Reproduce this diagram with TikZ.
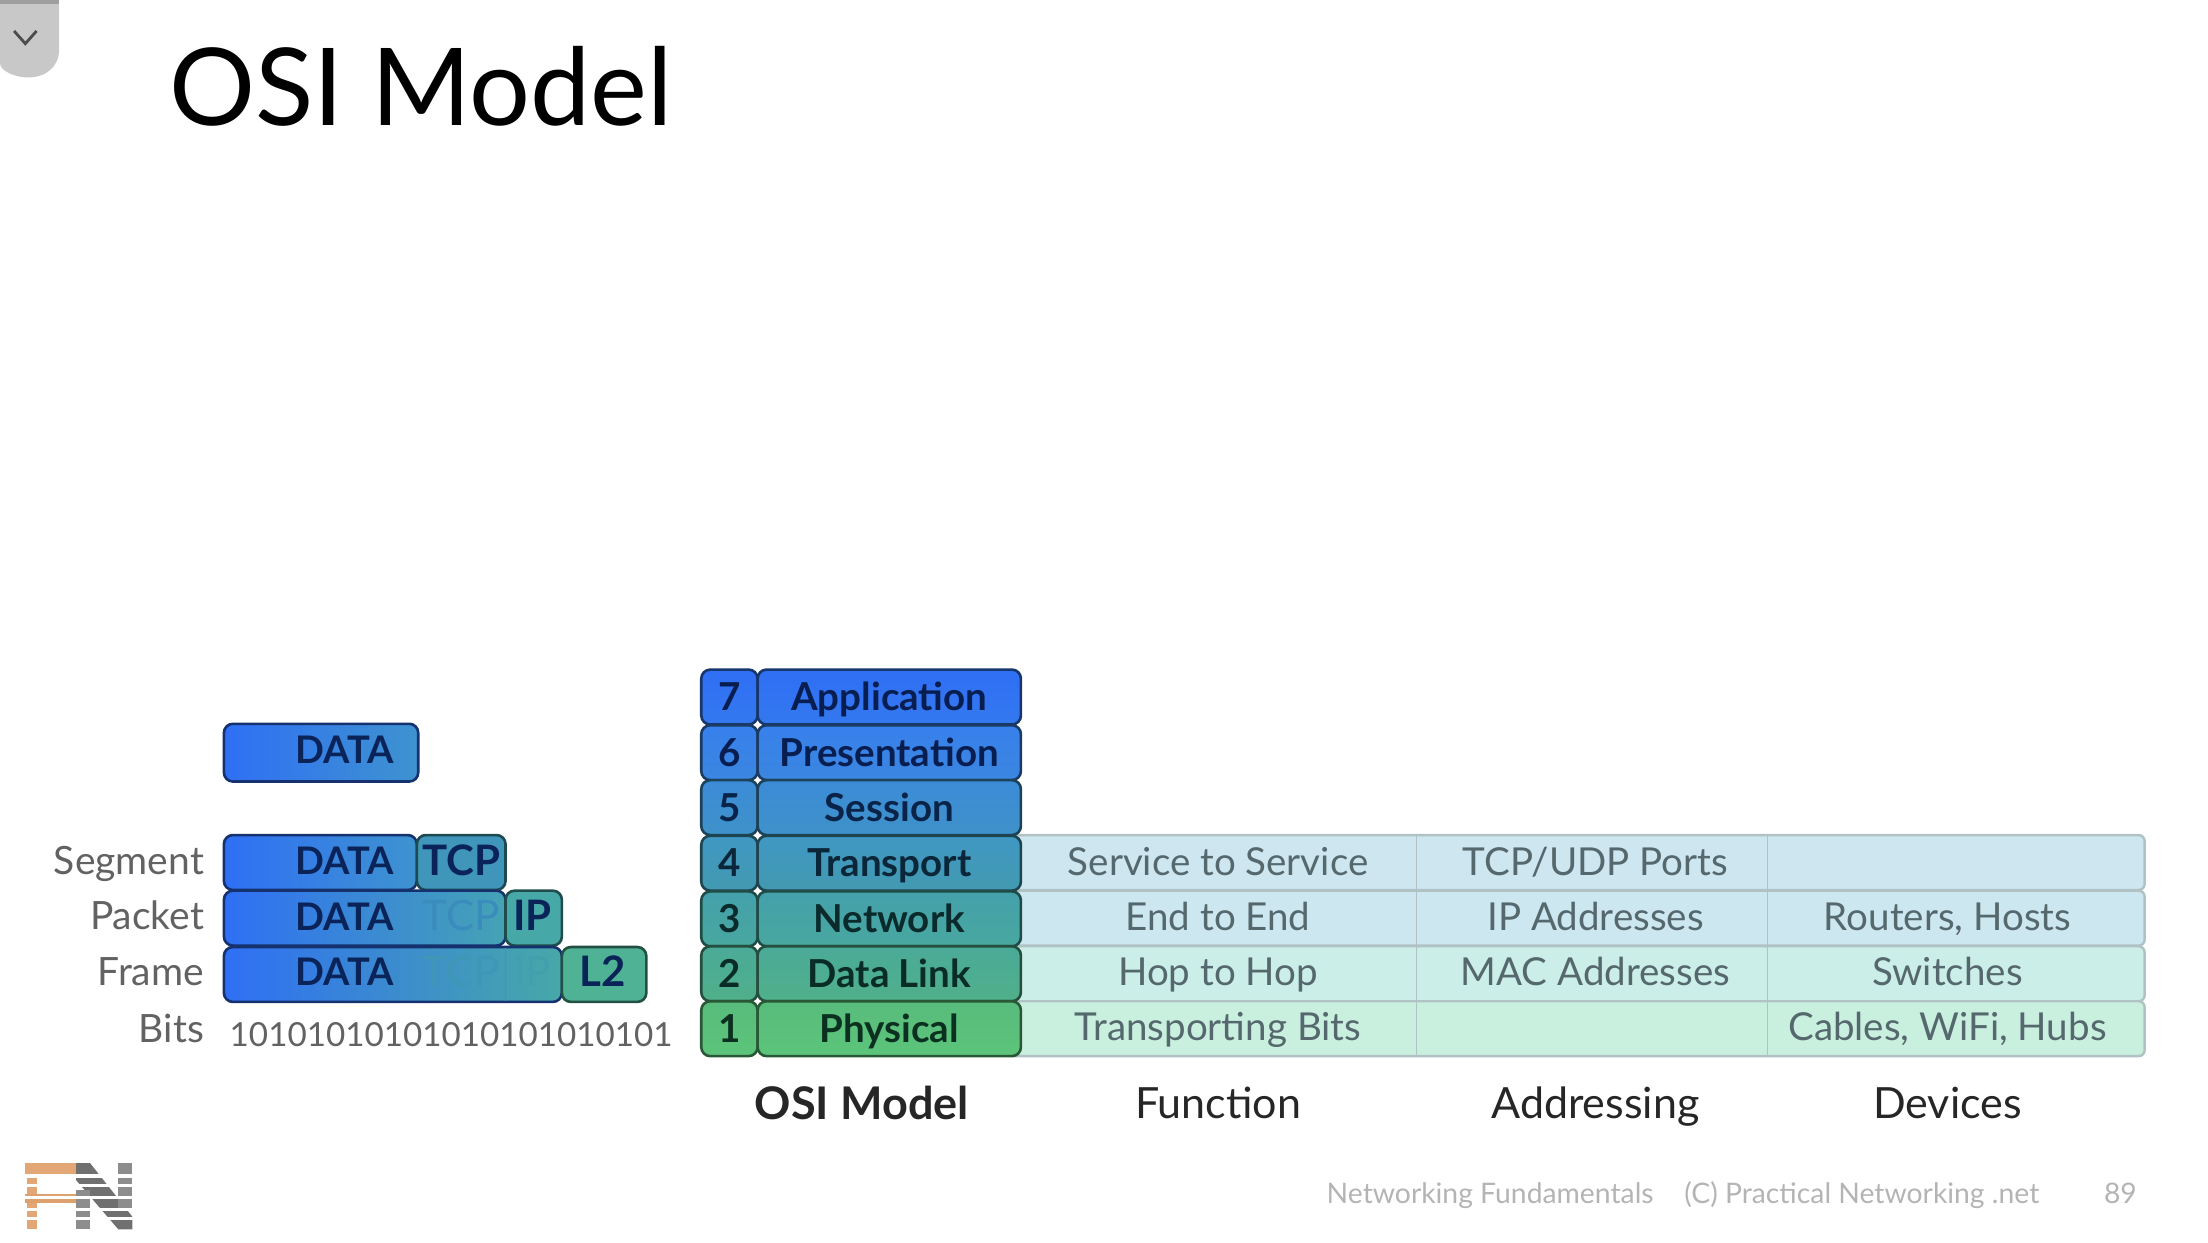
\documentclass[tikz,border=0pt]{standalone}
\usepackage{fontspec}
\setmainfont{Lato}
\definecolor{navy}{HTML}{0A2358}
\definecolor{cellink}{HTML}{55686D}
\definecolor{labelink}{HTML}{626262}
\definecolor{footink}{HTML}{B4B4B4}
\definecolor{tabgray}{HTML}{C8C8C8}
\definecolor{rowline}{HTML}{B0C2C4}
\definecolor{blueA}{HTML}{2F6FF5}
\definecolor{blueB}{HTML}{3E93CF}
\definecolor{tealB}{HTML}{45A3B4}
\definecolor{tealC}{HTML}{47A8A8}
\definecolor{greenD}{HTML}{4FB295}
\definecolor{fadeinkA}{HTML}{3A8CBC}
\definecolor{fadeinkB}{HTML}{3F97B8}
\definecolor{fadeinkC}{HTML}{429FAC}
\definecolor{orangeL}{HTML}{E3A675}
\definecolor{grayL}{HTML}{707070}
\tikzset{
  cellbox/.style={rounded corners=9pt,line width=2.6pt,inner sep=0pt,outer sep=0pt,font=\fontsize{38.5}{38.5}\selectfont\bfseries,text height=27pt,text depth=0pt},
  stackcell/.style 2 args={cellbox,draw=#2!45!black,top color=#1,bottom color=#2},
  tablerow/.style={rounded corners=6pt,draw=rowline,line width=2.4pt,inner sep=0pt,outer sep=0pt},
  celltext/.style={font=\fontsize{38.5}{38.5}\selectfont,text=cellink,inner sep=0pt,anchor=base},
  sidelabel/.style={font=\fontsize{39}{39}\selectfont,text=labelink,inner sep=0pt,anchor=base east},
  caption/.style={font=\fontsize{43}{43}\selectfont,text=black!85,inner sep=0pt,anchor=base},
  foot/.style={font=\fontsize{28.3}{28.3}\selectfont,text=footink,inner sep=0pt,anchor=base west},
  divider/.style={draw=rowline,line width=1pt},
  pduink/.style={font=\fontsize{38}{38}\selectfont\bfseries,text=navy,inner sep=0pt,anchor=base},
  hdrink/.style={pduink,font=\fontsize{42}{42}\selectfont\bfseries},
  fadehdr/.style={pduink,font=\fontsize{42}{42}\selectfont},
  pdubox/.style={rounded corners=9pt,line width=2.6pt,inner sep=0pt,outer sep=0pt,draw=#1!45!black,minimum height=39*1.408pt}
}
\begin{document}
\begin{tikzpicture}[x=1.408pt,y=-1.408pt]
\useasboundingbox (0,0) rectangle (1568,882);
% tab
\fill[tabgray] (0,0) -- (42,0) -- (42,35) .. controls (42,48) and (32,55) .. (20,55) .. controls (10,55) and (0,50) .. (0,45) -- cycle;
\fill[black!38] (0,0) rectangle (42,3);
\draw[black!70,line width=2.8pt] (10,22) -- (18,31) -- (26,22);
% title
\node[anchor=base west,inner sep=0pt,font=\fontsize{107.5}{107.5}\selectfont,text=black] (title) at (120,89) {OSI Model};

% table rows
\foreach \n/\yy/\col in {r4/612.5/CDE6F0,r3/652/CDE7F0,r2/691.5/CBEEE8,r1/730.5/C9F0DF}{
  \definecolor{rowfill}{HTML}{\col}
  \node[tablerow,fill=rowfill,minimum width=808*1.408pt,minimum height=39*1.408pt] (\n) at (1119,\yy) {};
}
\coordinate (dAtop) at (1006,593);
\coordinate (dAbot) at (1006,750);
\coordinate (dBtop) at (1255,593);
\coordinate (dBbot) at (1255,750);
\draw[divider] (dAtop) -- (dAbot);
\draw[divider] (dBtop) -- (dBbot);

% table text
\node[celltext] (f4) at (865,622) {Service to Service};
\node[celltext] (a4) at (1133,622) {TCP/UDP Ports};
\node[celltext] (f3) at (865,661) {End to End};
\node[celltext] (a3) at (1133,661) {IP Addresses};
\node[celltext] (d3) at (1383,661) {Routers, Hosts};
\node[celltext] (f2) at (865,700) {Hop to Hop};
\node[celltext] (a2) at (1133,700) {MAC Addresses};
\node[celltext] (d2) at (1383,700) {Switches};
\node[celltext] (f1) at (865,739) {Transporting Bits};
\node[celltext] (d1) at (1383,739) {Cables, WiFi, Hubs};

% OSI stack
\foreach \num/\name/\yy/\ca/\cb/\ink in {
  7/Application/495/2F6FF5/3478EE/081E50,
  6/Presentation/534.5/3880EC/3A86DF/081E50,
  5/Session/573.5/3C8BD8/3E92C8/0A2348,
  4/Transport/613/4098C4/4299B0/0A2638,
  3/Network/652.5/44A0AC/48A89E/0A2A2C,
  2/Data Link/691.5/4AAA98/50B08A/0A2C26,
  1/Physical/730.5/58BC7C/5CC47A/0C3020}{
  \definecolor{ca}{HTML}{\ca}\definecolor{cb}{HTML}{\cb}\definecolor{ink}{HTML}{\ink}
  \node[stackcell={ca}{cb},text=ink,minimum width=40*1.408pt,minimum height=39*1.408pt] (n\num) at (518,\yy) {\num};
  \node[stackcell={ca}{cb},text=ink,minimum width=187*1.408pt,minimum height=39*1.408pt] (l\num) at (631.5,\yy) {\name};
}

% captions
\node[caption,font=\fontsize{45}{45}\selectfont\bfseries] (c0) at (612,795) {OSI Model};
\node[caption] (c1) at (865,794) {Function};
\node[caption] (c2) at (1133,794) {Addressing};
\node[caption] (c3) at (1383,794) {Devices};

% PDU stack
\node[pdubox=blueA,left color=blueA,right color=blueB,minimum width=138*1.408pt,minimum height=41*1.408pt] (data0) at (228,534.5) {};
\node[pduink] (data0t) at (245,542) {DATA};

\node[pdubox=blueA,left color=blueA,right color=blueB,minimum width=137*1.408pt] (data1) at (227.5,612.5) {};
\node[pdubox=tealB,fill=tealB!92!blue,minimum width=63*1.408pt] (tcp1) at (327.5,612.5) {};
\node[pduink] (data1t) at (245,621) {DATA};
\node[hdrink] (tcp1t) at (327.5,622) {TCP};

\node[pdubox=blueA,left color=blueA,right color=tealB,minimum width=200*1.408pt] (data2) at (259,652) {};
\node[pdubox=tealC,fill=tealC,minimum width=40*1.408pt] (ip2) at (379,652) {};
\node[pduink] (data2t) at (245,660.5) {DATA};
\node[fadehdr,text=fadeinkA] (tcp2t) at (327.5,661) {TCP};
\node[hdrink] (ip2t) at (378,661) {IP};

\node[pdubox=blueA,left color=blueA,right color=tealC,minimum width=240*1.408pt] (data3) at (279,692) {};
\node[pdubox=greenD,fill=greenD,minimum width=60*1.408pt] (l23) at (429,692) {};
\coordinate (d3a) at (359,673);
\coordinate (d3b) at (359,711);
\draw[fadeinkB,line width=0.8pt] (d3a) -- (d3b);
\node[pduink] (data3t) at (245,700) {DATA};
\node[fadehdr,text=fadeinkB] (tcp3t) at (327.5,700.5) {TCP};
\node[fadehdr,text=fadeinkC] (ip3t) at (378,700.5) {IP};
\node[hdrink] (l23t) at (428,700.5) {L2};

% side labels
\node[sidelabel] (s1) at (145,621) {Segment};
\node[sidelabel] (s2) at (145,660) {Packet};
\node[sidelabel] (s3) at (145,700) {Frame};
\node[sidelabel] (s4) at (145,740) {Bits};
\node[anchor=base west,inner sep=0pt,font=\fontsize{33.2}{33.2}\selectfont,text=labelink] (bits) at (163,743) {10101010101010101010101};

% footer
\node[foot] (ft1) at (942,855) {Networking Fundamentals};
\node[foot] (ft2) at (1196,855) {(C) Practical Networking .net};
\node[foot] (ft3) at (1494,855) {89};

% logo
\begin{scope}[line join=miter]
\draw[orangeL,line width=10pt] (23,873) -- (23,826);
\fill[orangeL] (18,826) rectangle (60,835);
\fill[orangeL!85!brown] (18,848) rectangle (60,854);
\fill[grayL] (54,826) -- (64,826) -- (94,864) -- (94,873) -- (84,873) -- (54,838) -- cycle;
\fill[grayL!80] (54,845) rectangle (64,873);
\fill[grayL!80] (84,826) rectangle (94,860);
\foreach \yy in {834,841,849.5,858,864.5}{\fill[white] (14,\yy) rectangle (98,\yy+2.2);}
\end{scope}
\end{tikzpicture}
\end{document}
